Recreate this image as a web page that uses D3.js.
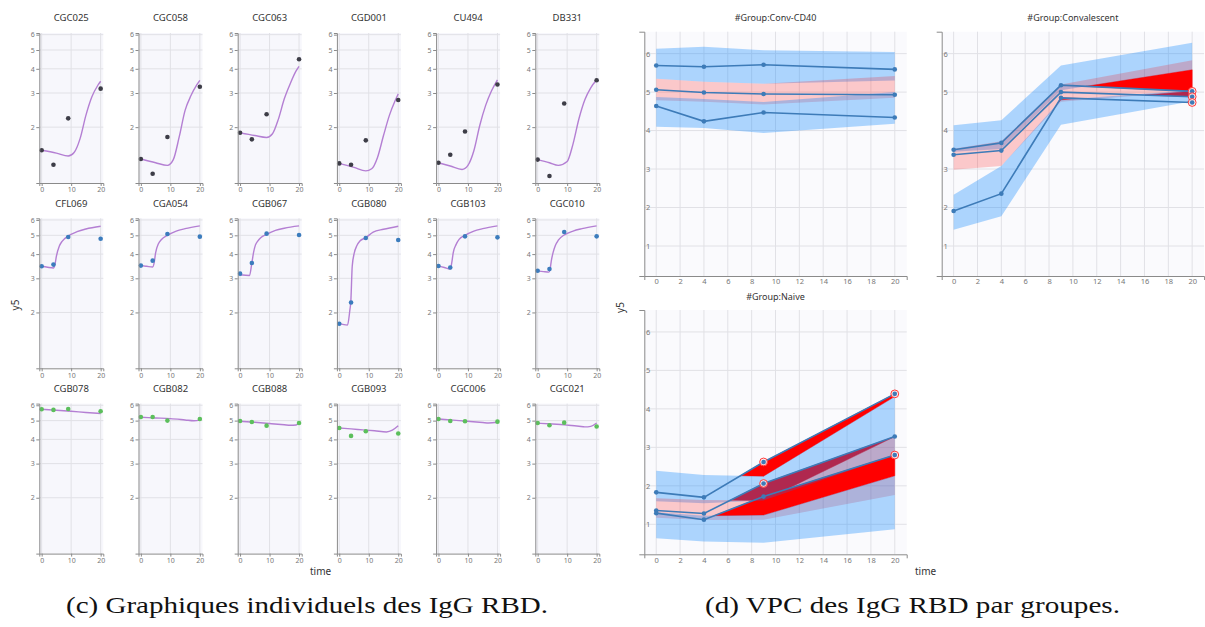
<!DOCTYPE html>
<html>
<head>
<meta charset="utf-8">
<script src="https://cdn.jsdelivr.net/npm/d3@7"></script>
<style>
  body { margin: 0; background: #fff; }
  svg { display: block; font-family: "Noto Sans", "Open Sans", sans-serif; }
</style>
</head>
<body>
<svg id="fig" width="1205" height="627"></svg>
<script>
// ---------- individual IgG RBD fits ----------
const subjects = [
  "CGC025", "CGC058", "CGC063", "CGD001", "CU494", "DB331",
  "CFL069", "CGA054", "CGB067", "CGB080", "CGB103", "CGC010",
  "CGB078", "CGB082", "CGB088", "CGB093", "CGC006", "CGC021"
];
const subjectGroup = [
  "Naive", "Naive", "Naive", "Naive", "Naive", "Naive",
  "Convalescent", "Convalescent", "Convalescent", "Convalescent", "Convalescent", "Convalescent",
  "Conv-CD40", "Conv-CD40", "Conv-CD40", "Conv-CD40", "Conv-CD40", "Conv-CD40"
];
const obsTimes = [0, 4, 9, 20];
const obsY5 = [
  [1.52, 1.28, 2.22, 3.16],
  [1.37, 1.15, 1.78, 3.23],
  [1.87, 1.73, 2.33, 4.48],
  [1.30, 1.28, 1.71, 2.76],
  [1.31, 1.44, 1.90, 3.32],
  [1.36, 1.12, 2.65, 3.49],
  [3.46, 3.53, 4.90, 4.80],
  [3.49, 3.70, 5.08, 4.92],
  [3.17, 3.60, 5.10, 5.02],
  [1.75, 2.25, 4.84, 4.73],
  [3.47, 3.41, 4.94, 4.88],
  [3.28, 3.35, 5.20, 4.94],
  [5.72, 5.68, 5.74, 5.59],
  [5.22, 5.22, 5.00, 5.10],
  [4.98, 4.92, 4.71, 4.86],
  [4.58, 4.17, 4.41, 4.29],
  [5.10, 4.98, 4.96, 4.94],
  [4.86, 4.73, 4.88, 4.66]
];
// model predictions, one row per subject
const fitTimes = [
  [0, 5, 9, 11, 13, 15, 17, 19, 20],
  [0, 5, 9, 11, 13, 15, 17, 19, 20],
  [0, 5, 9, 11, 13, 15, 17, 19, 20],
  [0, 5, 9, 11, 13, 15, 17, 19, 20],
  [0, 4, 8, 10, 12, 14, 16, 18, 20],
  [0, 4, 7, 10, 12, 14, 16, 18, 20],
  [0, 2, 4, 4.5, 5, 6, 7, 9, 12, 15, 20],
  [0, 2, 4, 4.5, 5, 6, 7, 9, 12, 15, 20],
  [0, 3.2, 4, 4.6, 5.2, 6, 7, 9, 12, 15, 20],
  [0, 2.8, 3.6, 3.9, 4.4, 5.1, 5.9, 7, 9, 11.5, 15, 20],
  [0, 2, 4, 4.5, 5, 6, 7, 9, 12, 15, 20],
  [0, 2, 3.8, 4.2, 4.6, 5.2, 6, 7, 9, 12, 15, 20],
  [0, 5, 10, 15, 20],
  [0, 5, 10, 15, 18, 20],
  [0, 5, 10, 15, 17, 19, 20],
  [0, 4, 8, 12, 16, 18, 20],
  [0, 5, 10, 15, 17, 20],
  [0, 5, 10, 14, 16, 18, 20]
];
const fitY5 = [
  [1.52, 1.47, 1.42, 1.48, 1.74, 2.30, 2.86, 3.28, 3.45],
  [1.37, 1.31, 1.27, 1.36, 1.78, 2.44, 2.91, 3.31, 3.49],
  [1.87, 1.81, 1.77, 1.85, 2.20, 2.80, 3.35, 3.90, 4.12],
  [1.30, 1.24, 1.19, 1.22, 1.40, 1.81, 2.30, 2.75, 2.97],
  [1.31, 1.26, 1.21, 1.27, 1.51, 2.04, 2.59, 3.08, 3.51],
  [1.36, 1.31, 1.27, 1.33, 1.64, 2.21, 2.77, 3.19, 3.51],
  [3.46, 3.42, 3.39, 3.53, 3.90, 4.40, 4.67, 4.96, 5.22, 5.39, 5.57],
  [3.49, 3.46, 3.43, 3.60, 4.06, 4.54, 4.76, 5.00, 5.26, 5.41, 5.59],
  [3.13, 3.10, 3.60, 4.10, 4.45, 4.67, 4.86, 5.06, 5.30, 5.44, 5.59],
  [1.75, 1.72, 2.06, 2.25, 3.46, 4.06, 4.40, 4.67, 4.86, 5.20, 5.37, 5.57],
  [3.47, 3.41, 3.35, 3.60, 4.06, 4.49, 4.76, 5.00, 5.26, 5.41, 5.59],
  [3.28, 3.25, 3.23, 3.33, 3.67, 4.06, 4.43, 4.72, 5.02, 5.26, 5.41, 5.59],
  [5.72, 5.66, 5.59, 5.51, 5.44],
  [5.20, 5.16, 5.12, 5.04, 4.99, 5.03],
  [4.96, 4.90, 4.83, 4.76, 4.73, 4.75, 4.86],
  [4.58, 4.53, 4.48, 4.43, 4.37, 4.46, 4.70],
  [5.10, 5.03, 4.96, 4.89, 4.86, 4.90],
  [4.85, 4.80, 4.74, 4.68, 4.64, 4.67, 4.86]
];
const indivYTicks = [2, 3, 4, 5, 6];
const indivXTicks = [0, 10, 20];

// ---------- VPC by group ----------
const vpcTitles = ["#Group:Conv-CD40", "#Group:Convalescent", "#Group:Naive"];
const vpcTimes = [0, 4, 9, 20];
// observed empirical percentiles (high / median / low), one row per group
const vpcObsHigh   = [[5.69, 5.66, 5.71, 5.59], [3.50, 3.68, 5.18, 5.02], [1.83, 1.70, 2.62, 4.39]];
const vpcObsMedian = [[5.06, 4.99, 4.95, 4.93], [3.37, 3.48, 5.00, 4.88], [1.36, 1.28, 2.06, 3.28]];
const vpcObsLow    = [[4.64, 4.24, 4.47, 4.34], [1.91, 2.36, 4.85, 4.73], [1.29, 1.12, 1.72, 2.80]];
// prediction intervals of the simulated percentiles
const vpcUpperLo  = [[5.35, 5.27, 5.22, 5.30], [3.45, 3.52, 5.05, 5.58], [1.60, 1.55, 1.62, 2.80]];
const vpcUpperHi  = [[6.13, 6.18, 6.09, 6.04], [4.14, 4.27, 5.69, 6.28], [2.39, 2.28, 2.25, 4.32]];
const vpcMedianLo = [[4.79, 4.75, 4.68, 4.85], [2.98, 3.08, 4.75, 5.02], [1.17, 1.11, 1.12, 1.76]];
const vpcMedianHi = [[5.35, 5.27, 5.22, 5.42], [3.53, 3.72, 5.20, 5.83], [1.68, 1.63, 1.62, 3.28]];
const vpcLowerLo  = [[4.10, 4.07, 3.94, 4.18], [1.42, 1.77, 4.15, 4.76], [0.64, 0.55, 0.52, 0.87]];
const vpcLowerHi  = [[4.87, 4.82, 4.74, 5.00], [2.33, 3.08, 4.80, 5.05], [1.31, 1.22, 1.24, 2.26]];
// observed percentiles flagged as outliers
const vpcFlagHigh   = [[0, 0, 0, 0], [0, 0, 0, 1], [0, 0, 1, 1]];
const vpcFlagMedian = [[0, 0, 0, 0], [0, 0, 0, 1], [0, 0, 1, 0]];
const vpcFlagLow    = [[0, 0, 0, 0], [0, 0, 0, 1], [0, 0, 0, 1]];
const vpcYTicks = [1, 2, 3, 4, 5, 6];
const vpcXTicks = [0, 2, 4, 6, 8, 10, 12, 14, 16, 18, 20];

const captions = ["(c) Graphiques individuels des IgG RBD.", "(d) VPC des IgG RBD par groupes."];

// ---------- drawing ----------
const svg = d3.select("#fig");
const groupColor = { "Naive": "#3d3d47", "Convalescent": "#3b7cbd", "Conv-CD40": "#5cbf5c" };
const gridColor = "#e1e1e6";
const axisColor = "#8a8a8a";
const tickText = "#777";

function styleAxis(sel, fontSize) {
  sel.select(".domain").attr("stroke", axisColor);
  sel.selectAll(".tick line").attr("stroke", axisColor);
  sel.selectAll(".tick text").attr("fill", tickText).style("font-size", fontSize + "px")
    .style("font-family", "\"Noto Sans\", sans-serif");
}

// small multiples
const cellX0 = 39.3, cellDX = 99.2, cellW = 64;
const cellY0 = 33, cellDY = 185.3, cellH = 150;
const xs = d3.scaleLinear().domain([-0.8, 20.9]).range([0, cellW]);
const ys = d3.scaleLog().domain([1.03, 6.12]).range([cellH, 0]);
const fitLine = d3.line().x(d => xs(d[0])).y(d => ys(d[1])).curve(d3.curveMonotoneX);

subjects.forEach((id, i) => {
  const col = i % 6, row = Math.floor(i / 6);
  const g = svg.append("g").attr("transform", `translate(${cellX0 + col * cellDX},${cellY0 + row * cellDY})`);
  g.append("rect").attr("width", cellW).attr("height", cellH).attr("fill", "#f7f7fc");
  g.selectAll(".hg").data(indivYTicks).join("line")
    .attr("x1", 0).attr("x2", cellW).attr("y1", d => ys(d)).attr("y2", d => ys(d))
    .attr("stroke", gridColor).attr("stroke-width", 1);
  g.selectAll(".vg").data(indivXTicks).join("line")
    .attr("y1", 0).attr("y2", cellH).attr("x1", d => xs(d)).attr("x2", d => xs(d))
    .attr("stroke", gridColor).attr("stroke-width", 1);
  g.append("path").datum(d3.zip(fitTimes[i], fitY5[i])).attr("d", fitLine)
    .attr("fill", "none").attr("stroke", "#b47fd3").attr("stroke-width", 1.4);
  g.selectAll("circle").data(d3.zip(obsTimes, obsY5[i])).join("circle")
    .attr("cx", d => xs(d[0])).attr("cy", d => ys(d[1])).attr("r", 2.3)
    .attr("fill", groupColor[subjectGroup[i]]);
  g.append("g").call(d3.axisLeft(ys).tickValues(indivYTicks).tickFormat(d3.format("d"))
    .tickSize(3).tickPadding(1.5)).call(s => styleAxis(s, 7));
  g.append("g").attr("transform", `translate(0,${cellH})`)
    .call(d3.axisBottom(xs).tickValues(indivXTicks).tickSize(3).tickPadding(1.5))
    .call(s => styleAxis(s, 7));
  g.append("text").attr("x", cellW / 2).attr("y", -11.7).attr("text-anchor", "middle")
    .style("font-size", "9.5px").attr("fill", "#333").text(id);
});

svg.append("text").attr("transform", "translate(18.5,305) rotate(-90)").attr("text-anchor", "middle")
  .style("font-size", "10px").attr("fill", "#333").text("y5");
svg.append("text").attr("x", 310).attr("y", 575).style("font-size", "10px").attr("fill", "#333").text("time");

// VPC panels
const panelW = 262.4, panelH = 244.3;
const panelPos = [[644.3, 31.7], [941.7, 31.7], [644.3, 310]];
const vx = d3.scaleLinear().domain([-1, 21]).range([0, panelW]);
const vy = d3.scaleLinear().domain([0.22, 6.57]).range([panelH, 0]);
const band = d3.area().x(d => vx(d[0])).y0(d => vy(d[1])).y1(d => vy(d[2]));
const obsLine = d3.line().x(d => vx(d[0])).y(d => vy(d[1]));
const poly = d3.line().x(d => vx(d[0])).y(d => vy(d[1]));

// pieces of an observed percentile lying outside a predicted edge (dir +1: above, -1: below)
function excursions(obs, edge, dir) {
  const out = [];
  for (let k = 0; k < vpcTimes.length - 1; k++) {
    const t0 = vpcTimes[k], t1 = vpcTimes[k + 1];
    const d0 = dir * (obs[k] - edge[k]), d1 = dir * (obs[k + 1] - edge[k + 1]);
    if (d0 <= 0 && d1 <= 0) continue;
    if (d0 > 0 && d1 > 0) {
      out.push([[t0, edge[k]], [t0, obs[k]], [t1, obs[k + 1]], [t1, edge[k + 1]]]);
    } else {
      const f = d0 / (d0 - d1);
      const tc = t0 + f * (t1 - t0), yc = obs[k] + f * (obs[k + 1] - obs[k]);
      if (d0 > 0) out.push([[t0, edge[k]], [t0, obs[k]], [tc, yc]]);
      else out.push([[tc, yc], [t1, obs[k + 1]], [t1, edge[k + 1]]]);
    }
  }
  return out;
}

vpcTitles.forEach((title, p) => {
  const g = svg.append("g").attr("transform", `translate(${panelPos[p][0]},${panelPos[p][1]})`);
  g.append("rect").attr("width", panelW).attr("height", panelH).attr("fill", "#fafafd");
  g.selectAll(".hg").data(vpcYTicks).join("line")
    .attr("x1", 0).attr("x2", panelW).attr("y1", d => vy(d)).attr("y2", d => vy(d))
    .attr("stroke", gridColor);
  g.selectAll(".vg").data(vpcXTicks).join("line")
    .attr("y1", 0).attr("y2", panelH).attr("x1", d => vx(d)).attr("x2", d => vx(d))
    .attr("stroke", gridColor);

  const series = [
    [vpcObsHigh[p], vpcUpperLo[p], vpcUpperHi[p], vpcFlagHigh[p]],
    [vpcObsMedian[p], vpcMedianLo[p], vpcMedianHi[p], vpcFlagMedian[p]],
    [vpcObsLow[p], vpcLowerLo[p], vpcLowerHi[p], vpcFlagLow[p]]
  ];
  // outlier areas underneath the prediction bands, one path per series
  series.forEach(([obs, lo, hi]) => {
    const pieces = excursions(obs, hi, 1).concat(excursions(obs, lo, -1));
    if (!pieces.length) return;
    g.append("path").attr("d", pieces.map(pts => poly(pts) + "Z").join(""))
      .attr("fill", "#ff0000").attr("stroke", "#ff0000").attr("stroke-width", 0.5)
      .attr("stroke-linejoin", "round");
  });
  // prediction intervals
  const bandFill = ["rgba(0,128,255,0.31)", "rgba(255,0,0,0.2)", "rgba(0,128,255,0.31)"];
  series.forEach(([obs, lo, hi], s) => {
    g.append("path").datum(vpcTimes.map((t, k) => [t, lo[k], hi[k]])).attr("d", band)
      .attr("fill", bandFill[s]);
  });
  // observed percentiles
  series.forEach(([obs]) => {
    g.append("path").datum(d3.zip(vpcTimes, obs)).attr("d", obsLine)
      .attr("fill", "none").attr("stroke", "#3d7bb8").attr("stroke-width", 1.6);
  });
  series.forEach(([obs, lo, hi, flag]) => {
    vpcTimes.forEach((t, k) => {
      if (flag[k]) {
        g.append("circle").attr("cx", vx(t)).attr("cy", vy(obs[k])).attr("r", 3.9)
          .attr("fill", "rgba(255,235,235,0.85)").attr("stroke", "#ff3b3b").attr("stroke-width", 1);
      }
      g.append("circle").attr("cx", vx(t)).attr("cy", vy(obs[k])).attr("r", 2.3).attr("fill", "#3d7bb8");
    });
  });

  g.append("g").call(d3.axisLeft(vy).tickValues(vpcYTicks).tickFormat(d3.format("d"))
    .tickSizeInner(0).tickSizeOuter(5).tickPadding(-6)).call(s => styleAxis(s, 7.5));
  g.append("g").attr("transform", `translate(0,${panelH})`)
    .call(d3.axisBottom(vx).tickValues(vpcXTicks).tickSizeInner(0).tickSizeOuter(4).tickPadding(3))
    .call(s => styleAxis(s, 7.5));
  g.append("text").attr("x", panelW / 2).attr("y", -10.5).attr("text-anchor", "middle")
    .style("font-size", "9px").attr("fill", "#333").text(title);
});

svg.append("text").attr("transform", "translate(624,307.5) rotate(-90)").attr("text-anchor", "middle")
  .style("font-size", "10px").attr("fill", "#333").text("y5");
svg.append("text").attr("x", 915).attr("y", 575).style("font-size", "10px").attr("fill", "#333").text("time");

// captions
const capX = [66, 705], capLen = [482, 415];
captions.forEach((c, k) => {
  svg.append("text").attr("x", capX[k]).attr("y", 613)
    .attr("textLength", capLen[k]).attr("lengthAdjust", "spacingAndGlyphs")
    .style("font-family", "\"Liberation Serif\", \"DejaVu Serif\", serif").style("font-size", "23px")
    .attr("fill", "#111").text(c);
});
</script>
</body>
</html>
